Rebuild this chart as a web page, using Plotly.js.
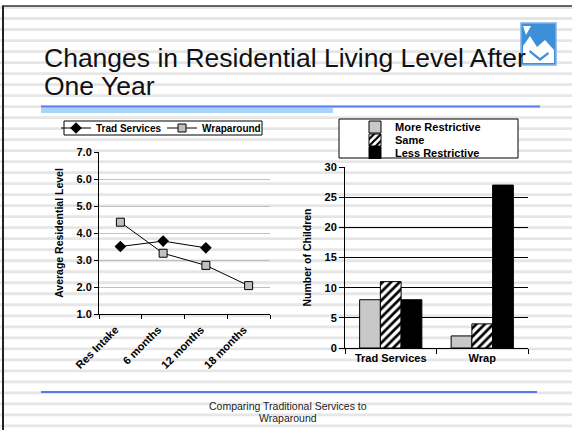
<!DOCTYPE html>
<html>
<head>
<meta charset="utf-8">
<script src="https://cdn.plot.ly/plotly-3.0.1.min.js"></script>
<style>
html,body{margin:0;padding:0;background:#fff;}
#chart{width:572px;height:430px;}
</style>
</head>
<body>
<div id="chart"></div>
<script>
// ---- data ----
const lineCategories = ['Res Intake', '6 months', '12 months', '18 months'];
const tradServicesLevel = [3.5, 3.7, 3.45];
const wraparoundLevel = [4.4, 3.25, 2.8, 2.05];
const barCategories = ['Trad Services', 'Wrap'];
const moreRestrictive = [8, 2];
const sameLevel = [11, 4];
const lessRestrictive = [8, 27];
const titleLines = ['Changes in Residential Living Level After', 'One Year'];
const footerLines = ['Comparing Traditional Services to', 'Wraparound'];

// ---- helpers (pixel -> paper) ----
const W = 572, H = 430;
const X = p => p / W;
const Y = p => 1 - p / H;
const path = pts => 'M' + pts.map(p => X(p[0]) + ',' + Y(p[1])).join('L') + 'Z';

const FONT = 'Liberation Sans, Arial, sans-serif';
const bold = (s) => ({family: FONT, size: s, color: '#000', weight: 'bold'});

// ---- decorative slide background ----
const shapes = [];
for (let k = 0; k < 40; k++) {
  const c = 7.5 + 11.01 * k;
  if (c > H + 2) break;
  shapes.push({type: 'rect', xref: 'paper', yref: 'paper', layer: 'below',
    x0: 0, x1: 1, y0: Y(c - 1.4), y1: Y(c + 1.4),
    fillcolor: '#e6e6e6', line: {width: 0}});
}
// frame
shapes.push({type: 'line', xref: 'paper', yref: 'paper', layer: 'below',
  x0: X(2), x1: 1, y0: Y(6), y1: Y(6), line: {color: '#333', width: 1.5}});
shapes.push({type: 'line', xref: 'paper', yref: 'paper', layer: 'below',
  x0: X(3), x1: X(3), y0: Y(6), y1: 0, line: {color: '#222', width: 2}});
// title rules
shapes.push({type: 'rect', xref: 'paper', yref: 'paper', layer: 'below',
  x0: X(41), x1: X(333), y0: Y(113), y1: Y(107.5), fillcolor: '#a9d3fa', line: {width: 0}});
shapes.push({type: 'line', xref: 'paper', yref: 'paper', layer: 'below',
  x0: X(41), x1: X(540), y0: Y(106.5), y1: Y(106.5), line: {color: '#5a7ff2', width: 2}});
// footer rule
shapes.push({type: 'line', xref: 'paper', yref: 'paper', layer: 'below',
  x0: X(41), x1: X(537), y0: Y(392), y1: Y(392), line: {color: '#2b4ff0', width: 1.5}});
// logo
shapes.push({type: 'rect', xref: 'paper', yref: 'paper', layer: 'above',
  x0: X(521), x1: X(556), y0: Y(65), y1: Y(23), fillcolor: '#3d8fd8', line: {color: '#7db2e6', width: 1.5}});
shapes.push({type: 'path', xref: 'paper', yref: 'paper', layer: 'above',
  path: path([[523, 46], [530, 36], [537, 47], [545, 40], [554, 50], [554, 63], [523, 63]]),
  fillcolor: '#ffffff', line: {width: 0}});
shapes.push({type: 'path', xref: 'paper', yref: 'paper', layer: 'above',
  path: path([[523, 26], [531, 26], [526, 35]]), fillcolor: '#ffffff', line: {width: 0}});
shapes.push({type: 'path', xref: 'paper', yref: 'paper', layer: 'above',
  path: path([[530, 50], [540, 58], [548, 52], [549, 54], [540, 61], [529, 52]]), fillcolor: '#3d8fd8', line: {width: 0}});
// legend boxes
shapes.push({type: 'rect', xref: 'paper', yref: 'paper', layer: 'above',
  x0: X(64), x1: X(262), y0: Y(135), y1: Y(121), fillcolor: '#ffffff', line: {color: '#000', width: 1}});
shapes.push({type: 'rect', xref: 'paper', yref: 'paper', layer: 'above',
  x0: X(339), x1: X(518), y0: Y(158), y1: Y(119), fillcolor: '#ffffff', line: {color: '#000', width: 1}});

// ---- traces ----
const traces = [
  {type: 'scatter', mode: 'lines+markers', name: 'Trad Services',
   x: lineCategories.slice(0, tradServicesLevel.length), y: tradServicesLevel,
   xaxis: 'x', yaxis: 'y', legend: 'legend',
   line: {color: '#000', width: 1},
   marker: {symbol: 'diamond', size: 9, color: '#000'}},
  {type: 'scatter', mode: 'lines+markers', name: 'Wraparound',
   x: lineCategories, y: wraparoundLevel,
   xaxis: 'x', yaxis: 'y', legend: 'legend2',
   line: {color: '#000', width: 1},
   marker: {symbol: 'square', size: 8, color: '#c0c0c0', line: {color: '#000', width: 1}}},
  {type: 'bar', name: 'More Restrictive', x: barCategories, y: moreRestrictive,
   xaxis: 'x2', yaxis: 'y2', legend: 'legend3',
   marker: {color: '#c8c8c8', line: {color: '#000', width: 1}}},
  {type: 'bar', name: 'Same', x: barCategories, y: sameLevel,
   xaxis: 'x2', yaxis: 'y2', legend: 'legend4',
   marker: {color: '#ffffff', line: {color: '#000', width: 1},
     pattern: {shape: '/', fgcolor: '#000', bgcolor: '#ffffff', size: 6, solidity: 0.45, fillmode: 'replace'}}},
  {type: 'bar', name: 'Less Restrictive', x: barCategories, y: lessRestrictive,
   xaxis: 'x2', yaxis: 'y2', legend: 'legend5',
   marker: {color: '#000000', line: {color: '#000', width: 1}}}
];

const legendBase = {bgcolor: 'rgba(0,0,0,0)', borderwidth: 0, font: bold(11),
  xanchor: 'left', yanchor: 'middle', itemwidth: 30, itemclick: false, itemdoubleclick: false};

const layout = {
  width: W, height: H, autosize: false,
  margin: {l: 0, r: 0, t: 0, b: 0},
  paper_bgcolor: '#ffffff', plot_bgcolor: 'rgba(0,0,0,0)',
  barmode: 'group', bargap: 0.32, bargroupgap: 0,
  showlegend: true,
  xaxis: {domain: [X(99), X(270)], anchor: 'y', type: 'category', range: [-0.5, 3.5],
    tickson: 'boundaries', ticks: 'outside', ticklen: 4, tickcolor: '#000',
    showline: true, linecolor: '#000', linewidth: 1, showgrid: false, zeroline: false,
    tickangle: -45, tickfont: bold(11), ticklabelstandoff: 4, ticklabelshift: -5, fixedrange: true},
  yaxis: {domain: [Y(314), Y(152)], anchor: 'x', range: [1, 7], dtick: 1, tick0: 1,
    tickformat: '.1f', ticks: 'outside', ticklen: 4, tickcolor: '#000',
    showline: true, linecolor: '#000', linewidth: 1,
    showgrid: true, gridcolor: '#c0c0c0', gridwidth: 1, zeroline: false,
    tickfont: bold(11), fixedrange: true,
    title: {text: 'Average Residential Level', font: bold(10.5), standoff: 10}},
  xaxis2: {domain: [X(345), X(528)], anchor: 'y2', type: 'category',
    tickson: 'boundaries', ticks: 'outside', ticklen: 5, tickcolor: '#000',
    showline: true, linecolor: '#000', linewidth: 1, showgrid: false, zeroline: false,
    tickfont: bold(11), fixedrange: true},
  yaxis2: {domain: [Y(348), Y(167)], anchor: 'x2', range: [0, 30], dtick: 5,
    ticks: 'outside', ticklen: 5, tickcolor: '#000',
    showline: true, linecolor: '#000', linewidth: 1,
    showgrid: true, gridcolor: '#000', gridwidth: 1, zeroline: false,
    tickfont: bold(11), fixedrange: true,
    title: {text: 'Number of Children', font: bold(10.5), standoff: 10}},
  legend: Object.assign({}, legendBase, {x: X(56), y: Y(128), font: bold(10)}),
  legend2: Object.assign({}, legendBase, {x: X(162), y: Y(128), font: bold(10)}),
  legend3: Object.assign({}, legendBase, {x: X(355), y: Y(127)}),
  legend4: Object.assign({}, legendBase, {x: X(355), y: Y(140)}),
  legend5: Object.assign({}, legendBase, {x: X(355), y: Y(152.5)}),
  shapes: shapes,
  annotations: [
    {text: titleLines[0], xref: 'paper', yref: 'paper', x: X(42), y: Y(75.5),
     xanchor: 'left', yanchor: 'bottom', showarrow: false,
     font: {family: FONT, size: 26.5, color: '#111'}},
    {text: titleLines[1], xref: 'paper', yref: 'paper', x: X(42), y: Y(103.3),
     xanchor: 'left', yanchor: 'bottom', showarrow: false,
     font: {family: FONT, size: 26.5, color: '#111'}},
    {text: footerLines[0], xref: 'paper', yref: 'paper', x: X(288), y: Y(406),
     xanchor: 'center', yanchor: 'middle', showarrow: false,
     font: {family: FONT, size: 10.5, color: '#222'}},
    {text: footerLines[1], xref: 'paper', yref: 'paper', x: X(288), y: Y(418),
     xanchor: 'center', yanchor: 'middle', showarrow: false,
     font: {family: FONT, size: 10.5, color: '#222'}}
  ]
};

Plotly.newPlot('chart', traces, layout, {staticPlot: true, displayModeBar: false});
</script>
</body>
</html>
